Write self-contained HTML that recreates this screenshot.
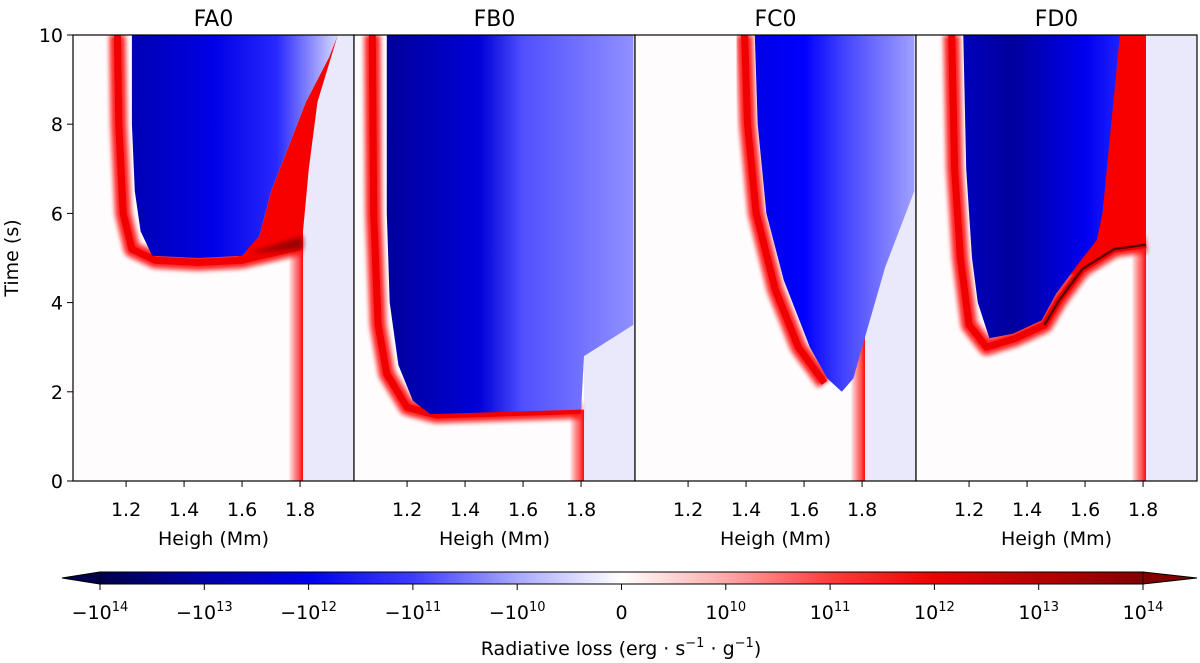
<!DOCTYPE html>
<html><head><meta charset="utf-8"><style>
html,body{margin:0;padding:0;background:#fff;}
svg{display:block;font-family:"DejaVu Sans","Liberation Sans",sans-serif;}
</style></head><body>
<svg id="chart" width="1200" height="663" viewBox="0 0 1200 663" xmlns="http://www.w3.org/2000/svg">
<defs>
<filter id="blur2" x="-10%" y="-10%" width="120%" height="120%"><feGaussianBlur stdDeviation="2.5"/></filter>
<linearGradient id="cbar" x1="0" x2="1" y1="0" y2="0">
<stop offset="0" stop-color="#00004c"/><stop offset="0.1" stop-color="#0000a8"/><stop offset="0.2" stop-color="#0000f0"/>
<stop offset="0.3" stop-color="#3c3cff"/><stop offset="0.4" stop-color="#a8a8ff"/><stop offset="0.5" stop-color="#ffffff"/>
<stop offset="0.6" stop-color="#ffa8a8"/><stop offset="0.7" stop-color="#ff3c3c"/><stop offset="0.8" stop-color="#f00000"/>
<stop offset="0.9" stop-color="#b80000"/><stop offset="1" stop-color="#800000"/>
</linearGradient>
</defs>
</svg>
<script>
// ---- data (height in Mm, time in s) ----
const panelNames = ["FA0","FB0","FC0","FD0"];
const xTicks = [1.2,1.4,1.6,1.8];
const yTicks = [0,2,4,6,8,10];
const cbarLabels = ["\u221210<tspan dy='-8' font-size='13'>14</tspan>","\u221210<tspan dy='-8' font-size='13'>13</tspan>","\u221210<tspan dy='-8' font-size='13'>12</tspan>","\u221210<tspan dy='-8' font-size='13'>11</tspan>","\u221210<tspan dy='-8' font-size='13'>10</tspan>","0","10<tspan dy='-8' font-size='13'>10</tspan>","10<tspan dy='-8' font-size='13'>11</tspan>","10<tspan dy='-8' font-size='13'>12</tspan>","10<tspan dy='-8' font-size='13'>13</tspan>","10<tspan dy='-8' font-size='13'>14</tspan>"];

const faBlueH = [1.22,1.22,1.23,1.25,1.29,1.45,1.6,1.66,1.7,1.76,1.82,1.9,1.93];
const faBlueT = [10,8,6.5,5.6,5.05,5.0,5.05,5.5,6.5,7.5,8.5,9.5,10];
const faRedH = [1.58,1.81,1.81,1.83,1.86,1.93,1.9,1.82,1.76,1.7,1.66];
const faRedT = [5.0,5.2,5.6,7,8.5,10,9.5,8.5,7.5,6.5,5.5];
const faEdgeH = [1.17,1.175,1.19,1.22,1.3,1.45,1.6,1.8];
const faEdgeT = [10,8,6,5.2,4.95,4.9,4.95,5.25];
const faLineTop = 5.3;

const fbBlueH = [1.13,1.13,1.14,1.17,1.22,1.28,1.8,1.81,1.98,1.98];
const fbBlueT = [10,6,4,2.6,1.8,1.5,1.6,2.8,3.5,10];
const fbEdgeH = [1.08,1.085,1.1,1.13,1.2,1.3,1.8];
const fbEdgeT = [10,6,3.5,2.4,1.65,1.48,1.58];
const fbLineTop = 1.6;

const fcBlueH = [1.43,1.44,1.47,1.53,1.62,1.68,1.73,1.77,1.8,1.88,1.98,1.98];
const fcBlueT = [10,8,6,4.5,3,2.3,2.0,2.3,3,4.8,6.5,10];
const fcEdgeH = [1.395,1.405,1.435,1.5,1.58,1.67];
const fcEdgeT = [10,8,6,4.3,3,2.2];
const fcLineTop = 3.6;

const fdBlueH = [1.18,1.19,1.21,1.23,1.27,1.35,1.45,1.5,1.58,1.64,1.66,1.72];
const fdBlueT = [10,7,5,4,3.2,3.3,3.6,4.2,4.9,5.4,6,10];
const fdRedH = [1.55,1.7,1.81,1.81,1.71,1.65];
const fdRedT = [4.6,5.2,5.3,10,10,6];
const fdEdgeH = [1.14,1.15,1.17,1.2,1.26,1.36,1.46,1.51,1.59,1.7,1.81];
const fdEdgeT = [10,7,5,3.5,3.0,3.2,3.5,4.05,4.75,5.2,5.3];
const fdLineTop = 5.3;

// ---- layout ----
const svg = document.getElementById('chart');
const NS = 'http://www.w3.org/2000/svg';
const panelX = [73,354,635,916], PW = 281, TOP = 35, BOT = 481;
const H0 = 1.017, H1 = 1.986;
function xs(p,h){ return panelX[p] + (h-H0)/(H1-H0)*PW; }
function ys(t){ return BOT - t/10*(BOT-TOP); }
function mk(tag, attrs, parent){ const e=document.createElementNS(NS,tag); for(const k in attrs) e.setAttribute(k,attrs[k]); (parent||svg).appendChild(e); return e; }
function pts(p,H,T){ return H.map((h,i)=>xs(p,h).toFixed(1)+','+ys(T[i]).toFixed(1)).join(' '); }

const defs = svg.querySelector('defs');
const blueStops = [
  [[1.2,'#0000b0'],[1.5,'#0000e6'],[1.72,'#2828ff'],[1.92,'#d0d0ff']],
  [[1.15,'#0000a0'],[1.45,'#0000d8'],[1.6,'#5050ff'],[1.98,'#9090ff']],
  [[1.45,'#0000e8'],[1.6,'#0000ff'],[1.75,'#4848ff'],[1.98,'#a0a0ff']],
  [[1.2,'#0000b8'],[1.35,'#00009c'],[1.6,'#0000f0'],[1.72,'#2020ff']]
];
const blues = [[faBlueH,faBlueT],[fbBlueH,fbBlueT],[fcBlueH,fcBlueT],[fdBlueH,fdBlueT]];
const edges = [[faEdgeH,faEdgeT],[fbEdgeH,fbEdgeT],[fcEdgeH,fcEdgeT],[fdEdgeH,fdEdgeT]];
const reds = [[faRedH,faRedT],null,null,[fdRedH,fdRedT]];
const lineTops = [faLineTop,fbLineTop,fcLineTop,fdLineTop];

for(let p=0;p<4;p++){
  const cp = mk('clipPath',{id:'clip'+p},defs);
  mk('rect',{x:panelX[p],y:TOP,width:PW,height:BOT-TOP},cp);
  const g = mk('linearGradient',{id:'bg'+p,gradientUnits:'userSpaceOnUse',x1:xs(p,blueStops[p][0][0]),x2:xs(p,blueStops[p][3][0]),y1:0,y2:0},defs);
  blueStops[p].forEach(s=>{ mk('stop',{offset:((s[0]-blueStops[p][0][0])/(blueStops[p][3][0]-blueStops[p][0][0])).toFixed(3),'stop-color':s[1]},g); });
  const lg = mk('linearGradient',{id:'lg'+p,x1:0,x2:1,y1:0,y2:0},defs);
  mk('stop',{offset:0,'stop-color':'#ff0000','stop-opacity':0},lg);
  mk('stop',{offset:0.7,'stop-color':'#ff3030','stop-opacity':0.8},lg);
  mk('stop',{offset:1,'stop-color':'#ff0000'},lg);

  const pg = mk('g',{'clip-path':'url(#clip'+p+')'});
  
  
  mk('rect',{x:panelX[p],y:TOP,width:PW,height:BOT-TOP,fill:'#fefcfd'},pg);
  const pale = mk('rect',{x:xs(p,1.81),y:TOP,width:xs(p,H1)-xs(p,1.81),height:BOT-TOP,fill:'#e9e9fb'},pg);
  
  const vl = mk('rect',{x:xs(p,1.76),y:ys(lineTops[p]),width:xs(p,1.81)-xs(p,1.76),height:ys(0)-ys(lineTops[p]),fill:'url(#lg'+p+')'},pg);
  
  const e = edges[p];
  const band = mk('polyline',{points:pts(p,e[0],e[1]),fill:'none',stroke:'#ff1010','stroke-width':16,'stroke-linejoin':'round',filter:'url(#blur2)',opacity:0.9},pg);
  
  mk('polyline',{points:pts(p,e[0],e[1]),fill:'none',stroke:'#f00000','stroke-width':7,'stroke-linejoin':'round'},pg);
  if(reds[p]){
    const r = mk('polygon',{points:pts(p,reds[p][0],reds[p][1]),fill:'#f80000'},pg);
    
  }
  const b = mk('polygon',{points:pts(p,blues[p][0],blues[p][1]),fill:'url(#bg'+p+')'},pg);
  
  if(p===3){
    const arcH = fdEdgeH.slice(6), arcT = fdEdgeT.slice(6);
    const arc = mk('polyline',{points:pts(p,arcH,arcT),fill:'none',stroke:'#600000','stroke-width':2.5},pg);
    
  }
  if(p===0){
    const dk = mk('polygon',{points:pts(p,[1.62,1.81,1.81],[5.1,5.2,5.5]),fill:'#a00000',filter:'url(#blur2)'},pg);
    
  }
  const fr = mk('rect',{x:panelX[p],y:TOP,width:PW,height:BOT-TOP,fill:'none',stroke:'#000','stroke-width':1.2});
  
  
  const tt = mk('text',{x:panelX[p]+PW/2,y:26,'text-anchor':'middle','font-size':22});
  tt.textContent = panelNames[p];
  
  
  xTicks.forEach(v=>{
    const x = xs(p,v);
    const tk = mk('line',{x1:x,x2:x,y1:BOT,y2:BOT+6,stroke:'#000','stroke-width':1});
    
    const tl = mk('text',{x:x,y:BOT+35,'text-anchor':'middle','font-size':19});
    tl.textContent = v.toFixed(1);
    
    
  });
  const xt = mk('text',{x:panelX[p]+PW/2,y:BOT+64,'text-anchor':'middle','font-size':19});
  xt.textContent = 'Heigh (Mm)';
  
  
}
yTicks.forEach(v=>{
  const y = ys(v);
  const tk = mk('line',{x1:panelX[0]-6,x2:panelX[0],y1:y,y2:y,stroke:'#000','stroke-width':1});
  
  const tl = mk('text',{x:panelX[0]-10,y:y+7,'text-anchor':'end','font-size':19});
  tl.textContent = v;
  
  
});
const yt = mk('text',{x:18,y:258,'text-anchor':'middle','font-size':19,transform:'rotate(-90 18 258)'});
yt.textContent = 'Time (s)';



// colorbar
const CB0 = 100, CB1 = 1143, CBY = 572, CBH = 12;
const cb = mk('g',{});


mk('polygon',{points:`${CB0},${CBY} ${CB0},${CBY+CBH} 62,${CBY+CBH/2}`,fill:'#00004c',stroke:'#000','stroke-width':1},cb);
mk('polygon',{points:`${CB1},${CBY} ${CB1},${CBY+CBH} 1197,${CBY+CBH/2}`,fill:'#800000',stroke:'#000','stroke-width':1},cb);
mk('rect',{x:CB0,y:CBY,width:CB1-CB0,height:CBH,fill:'url(#cbar)',stroke:'#000','stroke-width':1},cb);
cbarLabels.forEach((lab,i)=>{
  const x = CB0 + i*(CB1-CB0)/(cbarLabels.length-1);
  mk('line',{x1:x,x2:x,y1:CBY+CBH,y2:CBY+CBH+6,stroke:'#000'},cb);
  const t = mk('text',{x:x,y:CBY+CBH+35,'text-anchor':'middle','font-size':19},cb);
  t.innerHTML = lab;
  
  
});
const cl = mk('text',{x:621,y:655,'text-anchor':'middle','font-size':19});
cl.innerHTML = "Radiative loss (erg \u00b7 s<tspan dy='-8' font-size='13'>\u22121</tspan><tspan dy='8'> \u00b7 g</tspan><tspan dy='-8' font-size='13'>\u22121</tspan><tspan dy='8'>)</tspan>";


</script>
</body></html>
